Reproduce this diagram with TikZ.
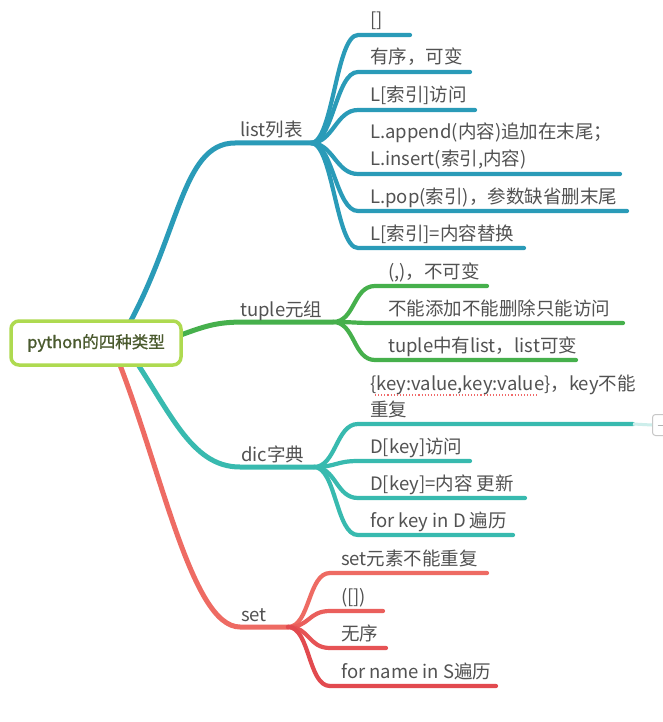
\documentclass[tikz,border=0pt]{standalone}
\usepackage{fontspec}
\setmainfont{Noto Sans CJK SC}
\newfontfamily\rootfont[FakeBold=0.9]{Noto Sans CJK SC}
\definecolor{cList}{HTML}{2A9BB8}
\definecolor{cTup}{HTML}{46B04C}
\definecolor{cDic}{HTML}{38BAAF}
\definecolor{cSet}{HTML}{EE6B63}
\definecolor{cSetB}{HTML}{EA5F5C}
\definecolor{cSetC}{HTML}{E65355}
\definecolor{cSetD}{HTML}{E24A4F}
\definecolor{txtgray}{HTML}{525252}
\definecolor{rootline}{HTML}{AEDA50}
\definecolor{roottext}{HTML}{4A5A2E}
\definecolor{spell}{HTML}{F06A6A}
\newcommand\kid[8]{%
 \coordinate (#3a) at (#4,#5);
 \coordinate (#3b) at (#6,#5);
 \draw[#1] (#2) .. controls +(22,0) and +(-22,0) .. (#3a) -- (#3b);
 \node[txt] (#3) at (#7,#5-8) {#8};}
\tikzset{
 txt/.style={anchor=base west, inner sep=0pt, text=txtgray, font=\fontsize{18.5}{19}\selectfont},
 lbl/.style={txt},
 branch/.style={line width=5pt, line cap=round},
 kidline/.style={line width=4.2pt, line cap=round},
}
\begin{document}
\begin{tikzpicture}[x=1pt,y=-1pt]
\fill[white] (0,0) rectangle (663,722);
\useasboundingbox (0,0) rectangle (663,722);

% hubs
\coordinate (lh) at (311,143);
\coordinate (th) at (333,322);
\coordinate (dh) at (314,467);
\coordinate (sh) at (288,627);

% main branches
\coordinate (lp) at (120,340);
\coordinate (lq) at (235,143);
\draw[branch,cList] (lp) .. controls (180,240) and (180,143) .. (lq) -- (lh);
\coordinate (tp) at (170,339);
\coordinate (tq) at (245,322);
\draw[branch,cTup] (tp) .. controls (205,326) and (215,322) .. (tq) -- (th);
\coordinate (dp) at (125,345);
\coordinate (dq) at (240,467);
\draw[branch,cDic] (dp) .. controls (170,410) and (190,467) .. (dq) -- (dh);
\coordinate (sp) at (112,345);
\coordinate (sq) at (240,627);
\draw[branch,cSet] (sp) .. controls (160,460) and (190,627) .. (sq) -- (sh);

% branch labels
\node[lbl] (list) at (240,137) {list列表};
\node[lbl] (tuple) at (240,316) {tuple元组};
\node[lbl] (dic) at (241,461) {dic字典};
\node[lbl] (set) at (241,621) {set};

% list children
\kid{kidline,cList}{lh}{la}{358}{35}{410}{370}{[]}
\kid{kidline,cList}{lh}{lb}{358}{72}{470}{370}{有序，可变}
\kid{kidline,cList}{lh}{lc}{358}{110}{475}{370}{L[索引]访问}
\kid{kidline,cList}{lh}{ld}{358}{174}{620}{370}{L.insert(索引,内容)}
\node[txt] (ld2) at (370,139) {L.append(内容)追加在末尾；};
\kid{kidline,cList}{lh}{le}{358}{211}{627}{370}{L.pop(索引)，参数缺省删末尾}
\kid{kidline,cList}{lh}{lf}{358}{248}{524}{370}{L[索引]=内容替换}

% tuple children
\kid{kidline,cTup}{th}{ta}{375}{286}{487}{388}{(,)，不可变}
\kid{kidline,cTup}{th}{tb}{375}{323}{623}{388}{不能添加不能删除只能访问}
\kid{kidline,cTup}{th}{tc}{375}{360}{576}{388}{tuple中有list，list可变}

% dic children
\kid{kidline,cDic}{dh}{da}{358}{424}{633}{370}{重复}
\node[txt] (da2) at (370,390) {\{key:value,key:value\}，key不能};
\draw[spell, dotted, line width=1.1pt] (375,395) -- (538,395);
\kid{kidline,cDic}{dh}{db}{358}{461}{470}{370}{D[key]访问}
\kid{kidline,cDic}{dh}{dc}{358}{498}{525}{370}{D[key]=内容 更新}
\kid{kidline,cDic}{dh}{dd}{358}{535}{513}{370}{for key in D 遍历}

% collapse button
\begin{scope}
\clip (0,0) rectangle (663,722);
\node[draw=black!22, line width=1pt, rounded corners=3pt, fill=white, minimum width=22pt, minimum height=21pt, anchor=west, inner sep=0pt] (plus) at (652,425) {};
\draw[cDic!25, line width=3pt] (dab) -- (plus.west);
\draw[black!30, line width=1pt] ([xshift=-6pt]plus.center) -- ([xshift=6pt]plus.center);
\draw[black!30, line width=1pt] ([yshift=-6pt]plus.center) -- ([yshift=6pt]plus.center);
\end{scope}

% set children
\kid{kidline,cSet}{sh}{sa}{330}{573}{487}{341}{set元素不能重复}
\kid{kidline,cSetB}{sh}{sb}{330}{611}{383}{341}{([])}
\kid{kidline,cSetC}{sh}{sc}{330}{648}{386}{341}{无序}
\kid{kidline,cSetD}{sh}{sd}{330}{686}{496}{341}{for name in S遍历}

% root
\node[draw=rootline, line width=3.5pt, rounded corners=8pt, fill=white,
      minimum width=170pt, minimum height=44pt, inner sep=0pt,
      text=roottext, font=\rootfont\fontsize{16.5}{16.5}\selectfont] (root) at (96,343) {python的四种类型};
\end{tikzpicture}
\end{document}
